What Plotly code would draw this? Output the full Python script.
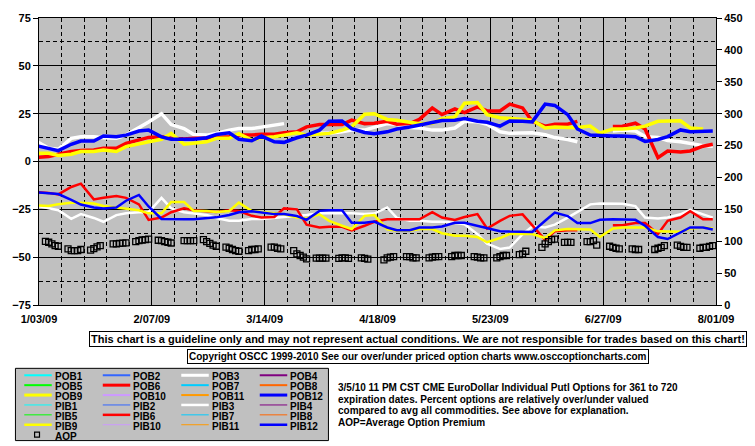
import pandas as pd
import plotly.graph_objects as go

# ---------------- data ----------------
# sample dates (Tue/Fri grid) for the option-value lines
line_dates = (["2009-01-02"] +
              sorted([d.strftime("%Y-%m-%d") for d in pd.date_range("2009-01-06", "2009-07-31", freq="W-TUE")] +
                     [d.strftime("%Y-%m-%d") for d in pd.date_range("2009-01-06", "2009-07-31", freq="W-FRI")]))

POB3 = [10.7, 6.9, 6.4, 12.1, 12.9, 12.9, 12.4, 12.1, 13.8, 17.6, 20.7, 25.0, 19.3, 17.2, 14.1, 13.8, 14.7, 16.4,
        17.2, 17.2, 18.1, 19.0, 19.8, None, None, 14.7, 14.7, 15.5, 16.4, 16.4,
        18.0, 19.8, 19.5, 17.8, 17.5, 16.4, 16.4, 17.5, 21.0, 20.8, 19.5, 15.5, 14.7, 14.7, 15.0,
        14.0, 12.5, 11.5, 10.3, None, None, 16.0, 16.4, 16.0, 13.0, 12.5, 11.0, 10.3, 9.3, 8.3, 8.0]
POB6 = [2.1, 2.6, 3.8, 5.2, 5.7, 6.0, 6.9, 6.9, 9.5, 11.2, 12.6, 12.9, 12.1, 11.7, 12.1, 12.1, 12.4, 12.9,
        13.8, 13.8, 14.3, 14.3, 15.0, 15.5, 18.1, 19.3, 19.3, 19.3, 21.6, 19.8,
        20.0, 21.0, 19.5, 19.8, 22.0, 28.0, 24.5, 27.5, 25.5, 28.5, 26.4, 26.4, 30.0, 28.0, 21.0,
        18.5, 19.5, 19.5, 21.0, None, None, 18.3, 18.4, 20.0, 17.0, 2.0, 5.5, 5.0, 5.5, 8.0, 9.0]
POB9 = [4.3, 4.3, 3.1, 3.8, 5.2, 5.2, 6.0, 5.2, 7.8, 9.0, 10.3, 11.6, 14.7, 9.0, 9.5, 10.3, 12.1, 12.1,
        14.5, 11.2, 12.4, 12.9, 13.8, 15.0, 13.8, 14.1, 14.7, 16.4, 18.1, 24.7,
        25.0, 22.0, 21.6, 20.5, 19.8, 20.0, 22.4, 23.3, 30.5, 30.8, 24.5, 22.9, 22.4, 22.0, 21.6,
        17.5, 18.0, 17.8, 17.8, 18.5, 14.8, 17.0, 17.0, 17.5, 18.5, 21.0, 21.3, 21.3, 17.5, 17.0, None]
POB12 = [8.3, 6.9, 5.7, 9.0, 10.7, 10.7, 13.3, 12.9, 13.8, 15.9, 16.4, 12.9, 11.6, 11.6, 11.6, 12.4, 14.1, 15.0,
         11.6, 10.9, 13.3, 10.3, 10.0, 12.4, 13.8, 16.4, 21.0, 21.2, 17.2, 15.2,
         14.5, 15.5, 17.0, 18.0, 19.0, 20.0, 21.4, 21.6, 22.4, 21.0, 20.5, 18.5, 21.2, 21.0, 20.7,
         30.0, 29.3, 24.5, 17.0, 13.8, 13.5, 13.3, 13.3, 13.0, 10.5, 11.5, 13.0, 16.5, 15.5, 15.9, 15.9]

PIB3 = [-23.0, -24.5, -25.5, -30.0, -27.5, -29.5, -31.5, -28.0, -27.0, -26.5, -26.5, -19.0, -24.5, -26.5, -27.2,
        -28.0, -29.5, -31.0, -31.0, -30.0, -30.0, -29.5, -29.2, -28.5, -28.0, -27.0, -27.0, -27.0, -27.0, -27.5,
        -27.2, -24.0, -29.5, -31.0, -31.0, -31.5, -31.5, -32.0, -32.8, -38.0, -43.0, -45.7, -45.0, -38.0, -34.0,
        -34.5, -33.0, -29.3, -26.4, -22.4, -21.9, -22.1, -22.1, -23.3, -29.3, -29.8, -29.3, -27.6, -25.3, -27.6, -29.3]
PIB6 = [-15.9, -16.4, -17.2, -13.3, -11.6, -19.8, -19.0, -18.1, -19.0, -22.4, -30.5, -29.3, -26.5, -24.5, -25.5,
        -26.2, -26.4, -25.5, -25.9, -28.4, -29.3, -29.0, -24.5, -25.0, -33.0, -34.5, -34.1, -34.1, -36.0, -33.6,
        -31.5, -30.2, -30.2, -30.2, -30.2, -26.5, -29.3, -30.5, -29.0, -27.5, -35.0, -31.0, -28.4, -27.6, -33.6,
        -41.0, -36.5, -35.9, -35.9, None, None, -33.3, -33.3, -32.2, -32.2, -37.9, -31.0, -29.3, -26.0, -30.2, -30.2]
PIB9 = [-22.9, -23.3, -22.4, -21.6, -21.5, -22.0, -23.3, -24.1, -25.0, -25.5, -27.1, -27.1, -21.2, -21.2, -25.9,
        -25.9, -26.4, -25.9, -21.5, -25.9, -26.4, -27.1, -27.6, -29.3, -29.8, -27.6, -31.0, -33.6, -35.3, -28.4,
        -28.0, -35.5, -36.2, -36.2, -35.3, -35.3, -37.5, -38.8, -38.8, -39.5, -42.2, -40.0, -37.9, -37.9, -37.9,
        -40.0, -36.0, -35.3, -35.3, -35.5, -39.5, -35.0, -34.5, -34.5, -34.5, -36.5, -36.7, -36.7, -35.0, -34.5, -35.0]
PIB12 = [-16.0, -16.5, -17.0, -20.0, -22.5, -24.0, -24.5, -24.1, -20.5, -17.5, -23.5, -30.0, -30.2, -30.2, -30.2,
         -29.8, -29.2, -28.0, -26.5, -26.0, -26.5, -27.5, -27.5, -28.5, -30.5, -25.8, -25.5, -25.5, -32.0, -32.0,
         -31.4, -34.5, -35.9, -35.9, -34.5, -34.5, -34.0, -32.0, -32.0, -33.5, -35.0, -36.4, -36.6, -36.6, -36.8,
         -31.0, -26.7, -28.5, -32.2, -32.2, -30.5, -30.2, -30.2, -30.5, -33.6, -39.5, -40.5, -37.1, -34.5, -34.5, -35.5]

# Average option premium (right axis), business days
aop_dates = [d.strftime("%Y-%m-%d") for d in pd.bdate_range("2009-01-05", "2009-07-31")]
AOP = [99.9, 98.4, 95.7, 93.0, 92.1,   88.0, 85.3, 85.3, 85.3, 87.0,   86.0, 88.5, 91.0, 93.0, None,
       95.7, 95.7, 96.6, 97.0, 97.5,   99.3, 100.9, 101.9, 102.4, 103.4,   101.5, 100.9, 99.3, 98.4, 97.2,
       None, 100.9, 100.9, 100.9, 100.9,   102.4, 99.3, 96.6, 94.0, 92.1,   90.6, 89.0, 87.0, 85.3, 84.3,
       85.3, 87.0, 87.0, 88.0, None,   90.6, 90.6, 89.0, 88.0, None,   85.3, 80.2, 77.6, 75.0, 72.4,
       73.4, 73.4, 73.4, 73.4, None,   73.0, 74.0, 74.0, 73.0, None,   74.0, 73.0, 72.0, None, None,
       70.9, 74.0, 75.0, 76.0, None,   76.0, 76.0, 74.0, 74.0, None,   74.0, 75.0, 76.0, 76.0, None,
       76.0, 77.6, 77.6, 77.6, None,   76.0, 75.0, 74.0, 74.0, None,   74.0, 76.0, 77.6, 77.6, None,
       79.0, 80.0, 84.3, None, None,   90.5, 95.7, 99.3, 102.4, 103.4,   98.3, 98.3, 98.3, None, None,
       99.3, 99.3, 100.9, 94.0, None,   92.1, 90.5, 89.0, 88.0, None,   88.0, 87.0, 87.0, None, None,
       87.0, 89.0, 90.5, 93.0, None,   94.0, 92.0, 90.5, 90.5, None,   89.0, 90.5, 90.5, 92.0, 93.0]

left_ticks = [-75, -50, -25, 0, 25, 50, 75]
right_ticks = [0, 50, 100, 150, 200, 250, 300, 350, 400, 450]

legend_names = ["POB1", "POB2", "POB3", "POB4", "POB5", "POB6", "POB7", "POB8", "POB9", "POB10", "POB11", "POB12",
                "PIB1", "PIB2", "PIB3", "PIB4", "PIB5", "PIB6", "PIB7", "PIB8", "PIB9", "PIB10", "PIB11", "PIB12"]
series_colors = ["#00FFFF", "#3366FF", "#FFFFFF", "#800080", "#00FF00", "#FF0000",
                 "#00CCFF", "#FF6600", "#FFFF00", "#CC99FF", "#FF9900", "#0000FF"]

box1 = "This chart is a guideline only and may not represent actual conditions. We are not responsible for trades based on this chart!"
box2 = "Copyright OSCC 1999-2010 See our over/under priced option charts www.osccoptioncharts.com"
desc_lines = ["3/5/10 11 PM CST CME EuroDollar Individual Putl Options for 361 to 720",
              "expiration dates. Percent options are relatively over/under valued",
              "compared to avg all commodities. See above for explanation.",
              "AOP=Average Option Premium"]

# ---------------- layout helpers ----------------
W, H = 755, 446
L, R, T, B = 32, 722, 15, 305
def px(x): return (x - L) / (R - L)
def py(y): return (B - y) / (B - T)

FONT = "Liberation Sans, Arial, sans-serif"

fig = go.Figure()

upper = [(POB3, "#FFFFFF"), (POB6, "#FF0000"), (POB9, "#FFFF00"), (POB12, "#0000FF")]
lower = [(PIB3, "#FFFFFF"), (PIB6, "#FF0000"), (PIB9, "#FFFF00"), (PIB12, "#0000FF")]
for vals, col in upper:
    fig.add_trace(go.Scatter(x=line_dates, y=vals, mode="lines", connectgaps=False,
                             line=dict(color=col, width=3.5), showlegend=False, hoverinfo="skip"))
for vals, col in lower:
    fig.add_trace(go.Scatter(x=line_dates, y=vals, mode="lines", connectgaps=False,
                             line=dict(color=col, width=2.5), showlegend=False, hoverinfo="skip"))
fig.add_trace(go.Scatter(x=aop_dates, y=AOP, yaxis="y2", mode="markers",
                         marker=dict(symbol="square-open", size=6, color="black", line=dict(width=1.3)),
                         showlegend=False, hoverinfo="skip"))

DASH = "4px,3px"
tickfont = dict(family=FONT, size=11, color="black", weight="bold")
fig.update_layout(
    width=W, height=H, margin=dict(l=L, r=W - R, t=T, b=H - B),
    paper_bgcolor="white", plot_bgcolor="#C0C0C0",
    font=dict(family=FONT, color="black"),
    showlegend=False,
    xaxis=dict(type="date", range=["2009-01-03", "2009-08-01"], tick0="2009-01-03",
               dtick=35 * 86400000, tickformat="%-m/%d/%y", tickfont=tickfont, ticklabelstandoff=4,
               showgrid=True, gridcolor="black", gridwidth=1,
               minor=dict(tick0="2009-01-03", dtick=7 * 86400000, showgrid=True,
                          gridcolor="black", griddash=DASH, gridwidth=1),
               showline=True, linecolor="black", linewidth=1, mirror=True, ticks="",
               zeroline=False, fixedrange=True),
    yaxis=dict(range=[-75, 75], tickvals=left_ticks, tickfont=tickfont,
               showgrid=True, gridcolor="black", gridwidth=1,
               minor=dict(dtick=12.5, tick0=0, showgrid=True, gridcolor="black", griddash=DASH, gridwidth=1),
               zeroline=False, showline=True, linecolor="black", linewidth=1,
               ticks="outside", ticklen=5, tickcolor="black", fixedrange=True),
    yaxis2=dict(range=[0, 450], tickvals=right_ticks, tickfont=tickfont, overlaying="y", side="right",
                showgrid=False, zeroline=False, showline=True, linecolor="black", linewidth=1,
                ticks="outside", ticklen=5, tickcolor="black", fixedrange=True),
)

shapes = []
annotations = []
LEG_FONT = dict(family=FONT, size=10, color="black", weight="bold")
# legend box
shapes.append(dict(type="rect", xref="paper", yref="paper", x0=px(8), x1=px(327), y0=py(442), y1=py(369),
                   fillcolor="#C0C0C0", line=dict(color="black", width=1)))
col_line_x = [(17, 45), (97, 125), (177, 205), (257, 285)]
col_text_x = [47, 127, 207, 287]
row_y = [376, 386, 396, 406, 416, 426, 436]
for i, name in enumerate(legend_names):
    row, col = divmod(i, 4)
    k = i % 12
    thick = (k + 1) in (3, 6, 9, 12)
    is_pob = i < 12
    width = (3 if thick else 2) if is_pob else (2.5 if thick else 1)
    y = row_y[row]
    shapes.append(dict(type="line", xref="paper", yref="paper",
                       x0=px(col_line_x[col][0]), x1=px(col_line_x[col][1]), y0=py(y), y1=py(y),
                       line=dict(color=series_colors[k], width=width)))
    annotations.append(dict(x=px(col_text_x[col]), y=py(y - 5), xref="paper", yref="paper",
                            text=name, showarrow=False, xanchor="left", yanchor="top",
                            height=10, borderpad=0, font=LEG_FONT))
# AOP legend entry
shapes.append(dict(type="rect", xref="paper", yref="paper", x0=px(27.5), x1=px(32.5), y0=py(438.5), y1=py(433.5),
                   line=dict(color="black", width=1.2), fillcolor="rgba(0,0,0,0)"))
annotations.append(dict(x=px(col_text_x[0]), y=py(row_y[6] - 5), xref="paper", yref="paper", text="AOP",
                        showarrow=False, xanchor="left", yanchor="top", height=10, borderpad=0,
                        font=LEG_FONT))

# notice boxes
annotations.append(dict(x=px(418.5), y=py(339), xref="paper", yref="paper", text=box1, showarrow=False,
                        xanchor="center", yanchor="middle", bgcolor="white", bordercolor="black",
                        borderwidth=1, borderpad=1,
                        font=dict(family=FONT, size=11, color="black", weight="bold")))
annotations.append(dict(x=px(418), y=py(357.5), xref="paper", yref="paper", text=box2, showarrow=False,
                        xanchor="center", yanchor="middle", bgcolor="white", bordercolor="black",
                        borderwidth=1, borderpad=1,
                        font=dict(family=FONT, size=10, color="black", weight="bold")))
# description
for j, line in enumerate(desc_lines):
    annotations.append(dict(x=px(335), y=py(388 + 12 * j), xref="paper", yref="paper", text=line,
                            showarrow=False, xanchor="left", yanchor="middle",
                            font=dict(family=FONT, size=10, color="black", weight="bold")))

fig.update_layout(shapes=shapes, annotations=annotations)
# page body without the browser's default margin so the figure sits at the top-left corner
fig.write_html("out.html", config={"displayModeBar": False},
               post_script="document.body.style.margin='0px';")
